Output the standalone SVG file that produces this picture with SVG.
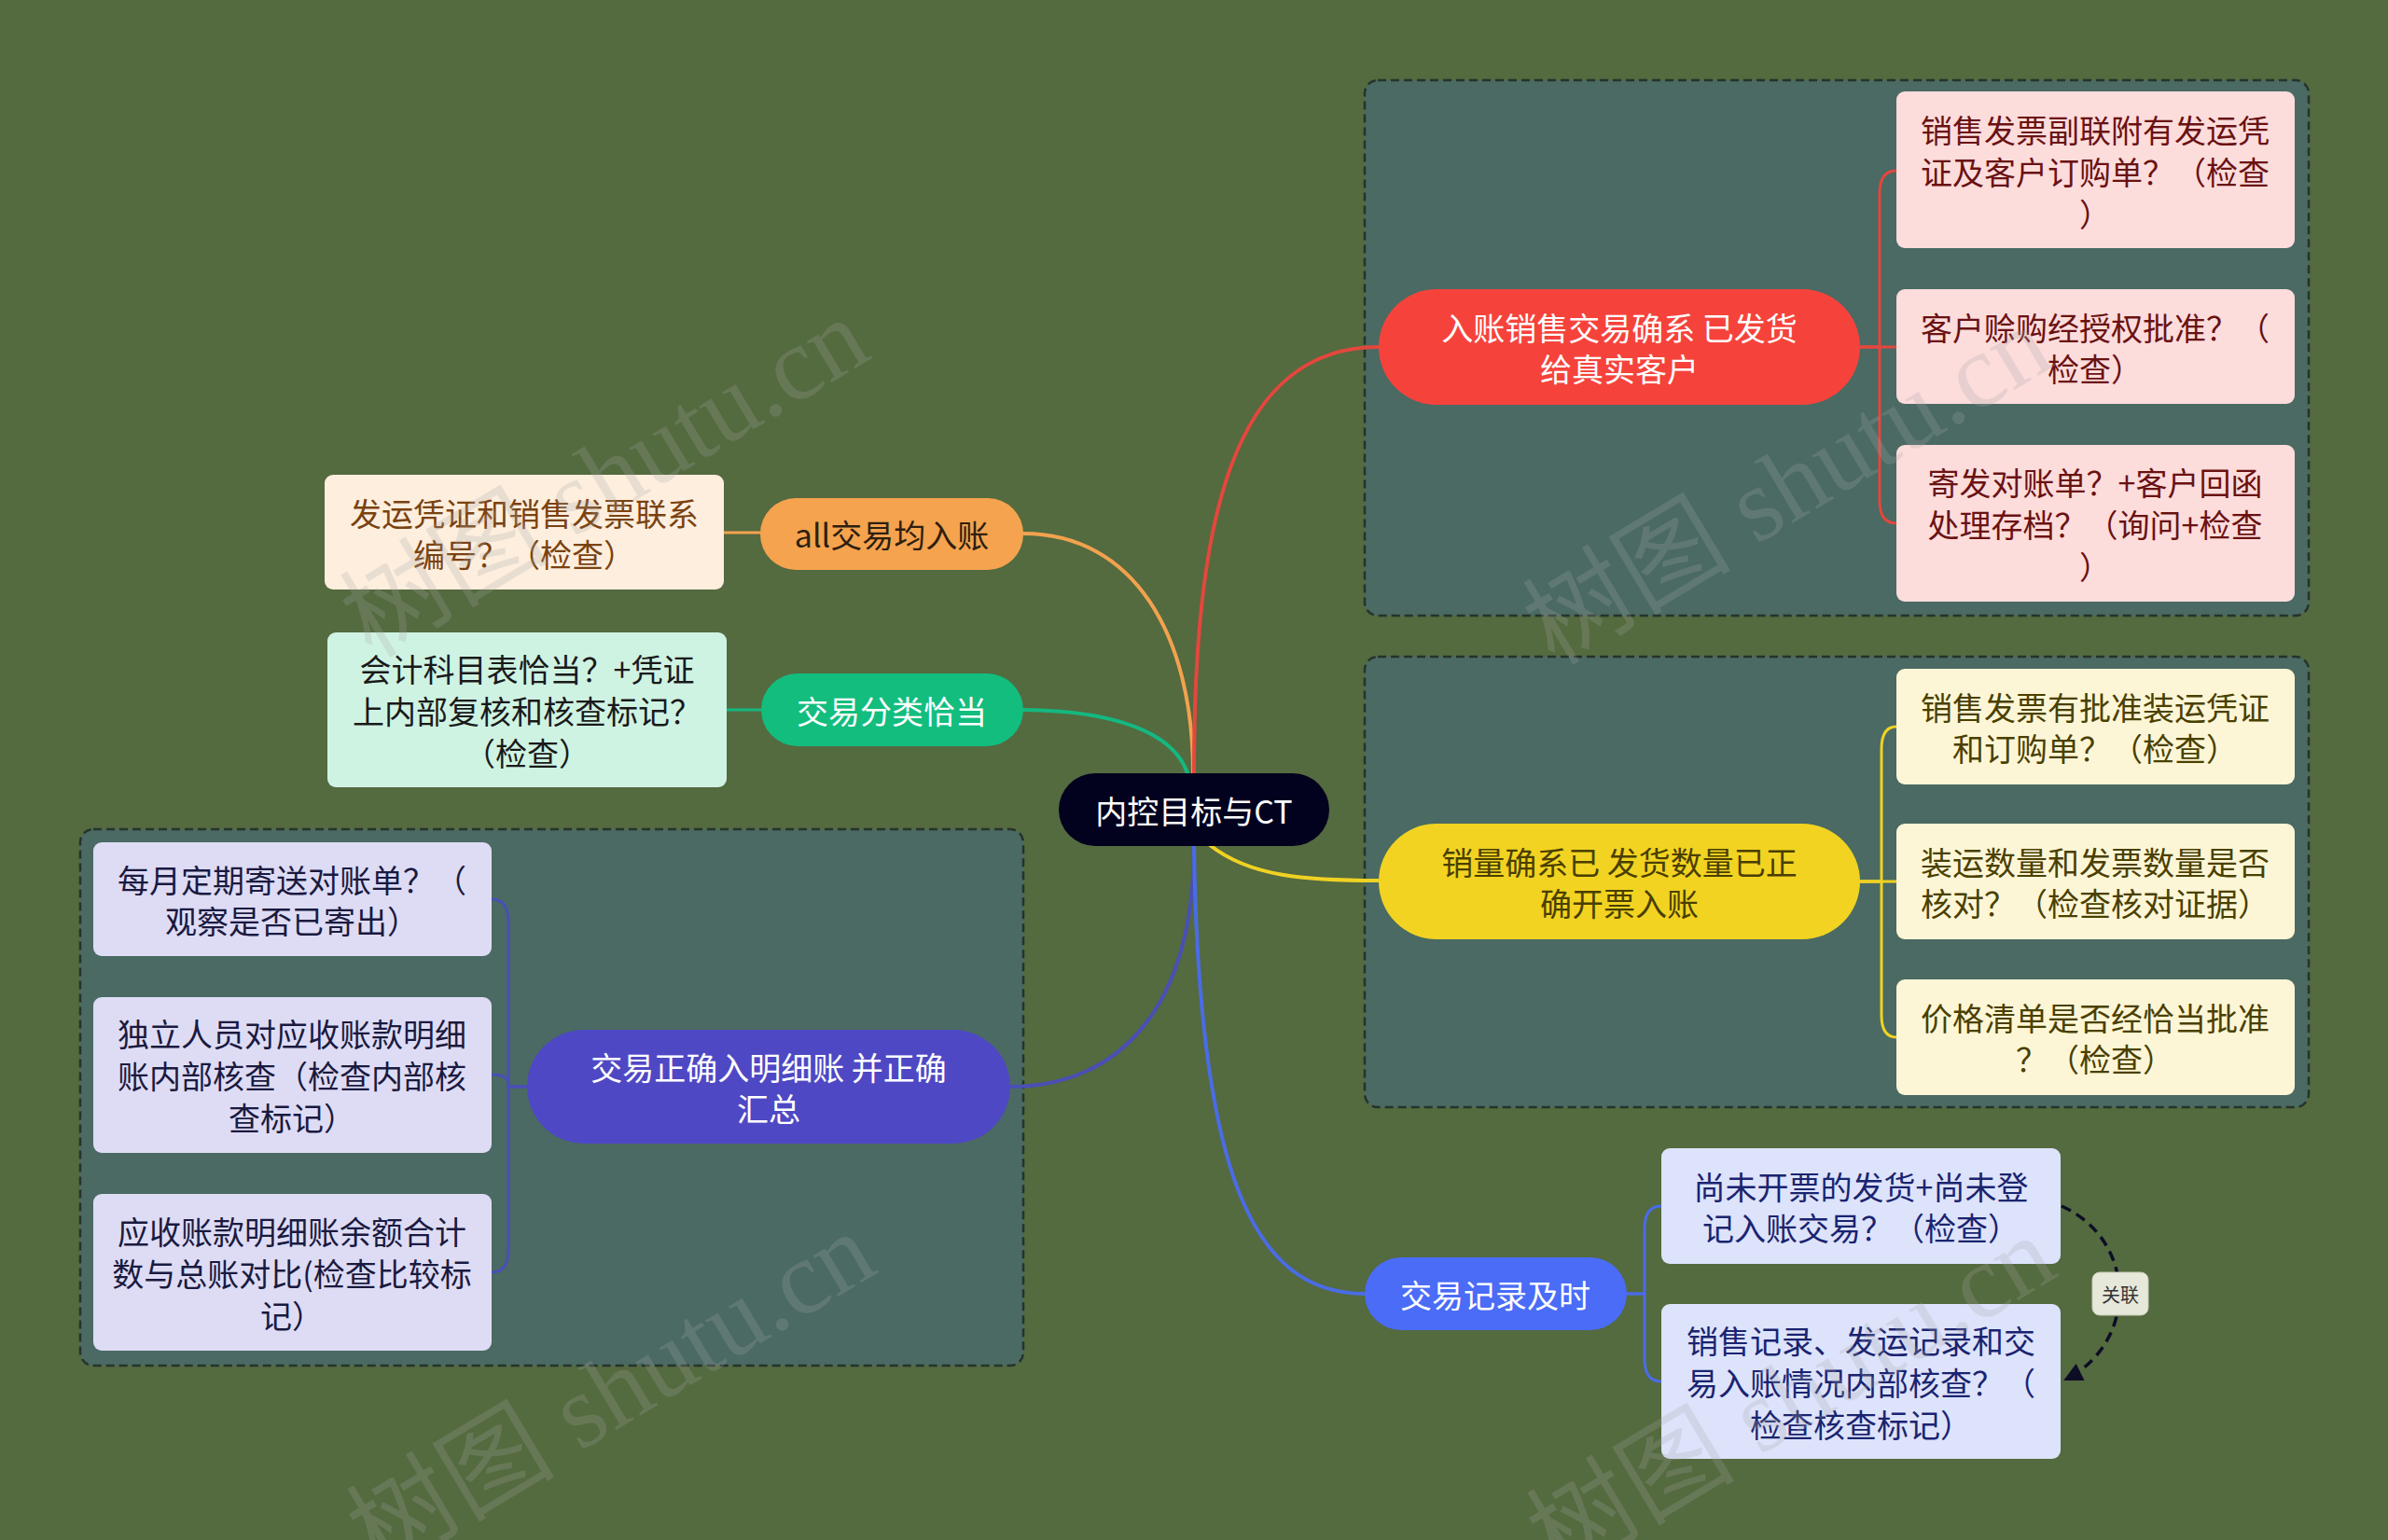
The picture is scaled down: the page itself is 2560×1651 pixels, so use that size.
<svg xmlns="http://www.w3.org/2000/svg" width="2560" height="1651" viewBox="0 0 2560 1651">
<defs>
<style>
text{font-family:"Noto Sans CJK SC","Noto Sans",sans-serif;font-size:34px;text-anchor:middle;dominant-baseline:central}
.grp{fill:#4a6a63;stroke:#26332c;stroke-width:2.5;stroke-dasharray:9 5}
.ln{fill:none;stroke-width:4;stroke-linecap:round}
.br{fill:none;stroke-width:3;stroke-linecap:round}
.wm{font-family:"Liberation Serif","Noto Sans CJK SC",serif;font-size:112px;fill:#a8a8a8;fill-opacity:0.24}
.rel{fill:none;stroke:#0d0d26;stroke-width:3.5;stroke-dasharray:11 7}
</style>
<marker id="arr" viewBox="0 0 10 10" refX="9" refY="5" markerWidth="24" markerHeight="20" orient="auto" markerUnits="userSpaceOnUse">
<path d="M0 0 L10 5 L0 10 z" fill="#0d0d26"/>
</marker>
</defs>
<rect width="2560" height="1651" fill="#546a3f"/>

<g id="groups">
<rect class="grp" x="1463" y="86" width="1012" height="574" rx="14"/>
<rect class="grp" x="1463" y="704" width="1012" height="483" rx="14"/>
<rect class="grp" x="86" y="889" width="1011" height="575" rx="14"/>
</g>

<g id="connectors">
<path class="ln" stroke="#f2a24e" d="M1097 572 C1215 572 1279 680 1279 829"/>
<path class="ln" stroke="#14b880" d="M1097 761 C1195 762 1258 785 1273 829"/>
<path class="ln" stroke="#e3473d" d="M1280 829 C1280 560 1320 372 1478 372"/>
<path class="ln" stroke="#f0d223" d="M1297 906 C1340 940 1400 944 1478 944"/>
<path class="ln" stroke="#4a4fb6" d="M1280 907 C1280 1080 1200 1165 1083 1165"/>
<path class="ln" stroke="#4a6ce6" d="M1280 907 C1285 1250 1340 1387 1463 1387"/>

<path class="br" stroke="#e3473d" d="M1994 372 H2015 V207 Q2015 183 2033 183"/>
<path class="br" stroke="#e3473d" d="M1994 372 H2033"/>
<path class="br" stroke="#e3473d" d="M1994 372 H2015 V537 Q2015 561 2033 561"/>

<path class="br" stroke="#f0d223" d="M1994 945 H2017 V803 Q2017 779 2033 779"/>
<path class="br" stroke="#f0d223" d="M1994 945 H2033"/>
<path class="br" stroke="#f0d223" d="M1994 945 H2017 V1088 Q2017 1112 2033 1112"/>

<path class="br" stroke="#4a6ce6" d="M1744 1387 H1763 V1317 Q1763 1293 1781 1293"/>
<path class="br" stroke="#4a6ce6" d="M1744 1387 H1763 V1457 Q1763 1481 1781 1481"/>

<path class="br" stroke="#4a4fb6" d="M565 1165 H545 V988 Q545 964 527 964"/>
<path class="br" stroke="#4a4fb6" d="M565 1165 H545 V1162 Q545 1152 527 1152"/>
<path class="br" stroke="#4a4fb6" d="M565 1165 H545 V1340 Q545 1364 527 1364"/>

<path class="br" stroke="#f2a24e" d="M815 571 H776"/>
<path class="br" stroke="#14b880" d="M816 761 H779"/>

<path class="rel" d="M2210 1293 C2292 1330 2292 1440 2214 1479" marker-end="url(#arr)"/>
</g>

<g id="root">
<rect x="1135" y="829" width="290" height="78" rx="39" fill="#02021f"/>
<text x="1280" y="868" fill="#ffffff">内控目标与CT</text>
</g>

<g id="n-red">
<rect x="1478" y="310" width="516" height="124" rx="62" fill="#f5433c"/>
<text x="1736" y="350" fill="#ffffff">入账销售交易确系 已发货</text>
<text x="1736" y="394" fill="#ffffff">给真实客户</text>
</g>
<g id="n-red-1">
<rect x="2033" y="98" width="427" height="168" rx="9" fill="#fddcdc"/>
<text x="2246" y="138" fill="#6a1212">销售发票副联附有发运凭</text>
<text x="2246" y="183" fill="#6a1212">证及客户订购单？（检查</text>
<text x="2246" y="228" fill="#6a1212">）</text>
</g>
<g id="n-red-2">
<rect x="2033" y="310" width="427" height="123" rx="9" fill="#fddcdc"/>
<text x="2246" y="350" fill="#6a1212">客户赊购经授权批准？（</text>
<text x="2246" y="394" fill="#6a1212">检查）</text>
</g>
<g id="n-red-3">
<rect x="2033" y="477" width="427" height="168" rx="9" fill="#fddcdc"/>
<text x="2246" y="516" fill="#6a1212">寄发对账单？+客户回函</text>
<text x="2246" y="561" fill="#6a1212">处理存档？（询问+检查</text>
<text x="2246" y="606" fill="#6a1212">）</text>
</g>

<g id="n-yellow">
<rect x="1478" y="883" width="516" height="124" rx="62" fill="#f2d322"/>
<text x="1736" y="923" fill="#4a3f00">销量确系已 发货数量已正</text>
<text x="1736" y="967" fill="#4a3f00">确开票入账</text>
</g>
<g id="n-yellow-1">
<rect x="2033" y="717" width="427" height="124" rx="9" fill="#fdf6d6"/>
<text x="2246" y="757" fill="#4a4000">销售发票有批准装运凭证</text>
<text x="2246" y="801" fill="#4a4000">和订购单？（检查）</text>
</g>
<g id="n-yellow-2">
<rect x="2033" y="883" width="427" height="124" rx="9" fill="#fdf6d6"/>
<text x="2246" y="923" fill="#4a4000">装运数量和发票数量是否</text>
<text x="2246" y="967" fill="#4a4000">核对？（检查核对证据）</text>
</g>
<g id="n-yellow-3">
<rect x="2033" y="1050" width="427" height="124" rx="9" fill="#fdf6d6"/>
<text x="2246" y="1090" fill="#4a4000">价格清单是否经恰当批准</text>
<text x="2246" y="1134" fill="#4a4000">？（检查）</text>
</g>

<g id="n-blue">
<rect x="1463" y="1348" width="281" height="78" rx="39" fill="#4a6cf7"/>
<text x="1603" y="1387" fill="#ffffff">交易记录及时</text>
</g>
<g id="n-blue-1">
<rect x="1781" y="1231" width="428" height="124" rx="9" fill="#dde3fb"/>
<text x="1995" y="1271" fill="#1a2470">尚未开票的发货+尚未登</text>
<text x="1995" y="1315" fill="#1a2470">记入账交易？（检查）</text>
</g>
<g id="n-blue-2">
<rect x="1781" y="1398" width="428" height="166" rx="9" fill="#dde3fb"/>
<text x="1995" y="1436" fill="#1a2470">销售记录、发运记录和交</text>
<text x="1995" y="1481" fill="#1a2470">易入账情况内部核查？（</text>
<text x="1995" y="1526" fill="#1a2470">检查核查标记）</text>
</g>
<g id="rel-label">
<rect x="2243" y="1364" width="60" height="46" rx="8" fill="#e6e8da" stroke="#c8ccb8" stroke-width="1"/>
<text x="2273" y="1387" fill="#333333" style="font-size:20px">关联</text>
</g>

<g id="n-orange">
<rect x="815" y="534" width="282" height="77" rx="38" fill="#f5a34e"/>
<text x="956" y="572" fill="#2e2010">all交易均入账</text>
</g>
<g id="n-orange-1">
<rect x="348" y="509" width="428" height="123" rx="9" fill="#fdeede"/>
<text x="562" y="549" fill="#7a4210">发运凭证和销售发票联系</text>
<text x="562" y="593" fill="#7a4210">编号？（检查）</text>
</g>

<g id="n-green">
<rect x="816" y="722" width="281" height="78" rx="39" fill="#12bd7e"/>
<text x="956" y="761" fill="#ffffff">交易分类恰当</text>
</g>
<g id="n-green-1">
<rect x="351" y="678" width="428" height="166" rx="9" fill="#cff3e3"/>
<text x="565" y="716" fill="#1a1a1a">会计科目表恰当？+凭证</text>
<text x="565" y="761" fill="#1a1a1a">上内部复核和核查标记？</text>
<text x="565" y="806" fill="#1a1a1a">（检查）</text>
</g>

<g id="n-purple">
<rect x="565" y="1104" width="518" height="122" rx="61" fill="#4f48c4"/>
<text x="824" y="1143" fill="#ffffff">交易正确入明细账 并正确</text>
<text x="824" y="1187" fill="#ffffff">汇总</text>
</g>
<g id="n-purple-1">
<rect x="100" y="903" width="427" height="122" rx="9" fill="#dedcf5"/>
<text x="313" y="942" fill="#1a1a40">每月定期寄送对账单？（</text>
<text x="313" y="986" fill="#1a1a40">观察是否已寄出）</text>
</g>
<g id="n-purple-2">
<rect x="100" y="1069" width="427" height="167" rx="9" fill="#dedcf5"/>
<text x="313" y="1107" fill="#1a1a40">独立人员对应收账款明细</text>
<text x="313" y="1152" fill="#1a1a40">账内部核查（检查内部核</text>
<text x="313" y="1197" fill="#1a1a40">查标记）</text>
</g>
<g id="n-purple-3">
<rect x="100" y="1280" width="427" height="168" rx="9" fill="#dedcf5"/>
<text x="313" y="1319" fill="#1a1a40">应收账款明细账余额合计</text>
<text x="313" y="1364" fill="#1a1a40">数与总账对比(检查比较标</text>
<text x="313" y="1409" fill="#1a1a40">记）</text>
</g>

<g id="watermarks">
<text class="wm" transform="rotate(-31 648 512)" x="648" y="512">树图 shutu.cn</text>
<text class="wm" transform="rotate(-31 655 1492)" x="655" y="1492">树图 shutu.cn</text>
<text class="wm" transform="rotate(-31 1916 520)" x="1916" y="520">树图 shutu.cn</text>
<text class="wm" transform="rotate(-31 1920 1496)" x="1920" y="1496">树图 shutu.cn</text>
</g>
</svg>
